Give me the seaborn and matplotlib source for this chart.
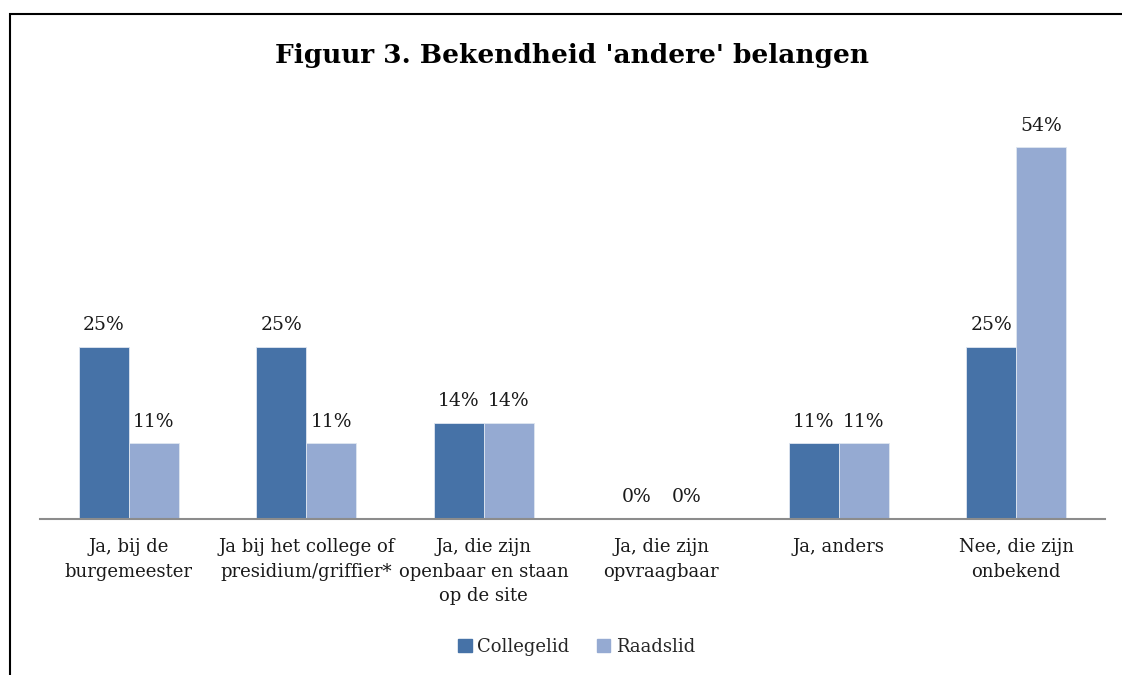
import matplotlib

matplotlib.use("Agg")

import matplotlib.pyplot as plt
import matplotlib.patches as mpatches
import pandas as pd
import seaborn as sns

categories = [
    "Ja, bij de\nburgemeester",
    "Ja bij het college of\npresidium/griffier*",
    "Ja, die zijn\nopenbaar en staan\nop de site",
    "Ja, die zijn\nopvraagbaar",
    "Ja, anders",
    "Nee, die zijn\nonbekend",
]
collegelid = [25, 25, 14, 0, 11, 25]
raadslid = [11, 11, 14, 0, 11, 54]
series = ["Collegelid", "Raadslid"]
colors = {"Collegelid": "#4672A7", "Raadslid": "#95AAD2"}

df = pd.DataFrame(
    {
        "categorie": categories * 2,
        "waarde": collegelid + raadslid,
        "groep": [series[0]] * len(categories) + [series[1]] * len(categories),
    }
)

sns.set_theme(style="white")
plt.rcParams["font.family"] = ["DejaVu Serif"]

fig = plt.figure(figsize=(11.22, 6.75), dpi=100)
ax = fig.add_axes([40 / 1122, 156 / 675, 1065 / 1122, 413 / 675])

sns.barplot(
    data=df, x="categorie", y="waarde", hue="groep", order=categories,
    hue_order=series, palette=colors, width=0.565, saturation=1,
    edgecolor="#dfe6f0", linewidth=0.6, ax=ax, legend=True,
)

for container in ax.containers:
    ax.bar_label(container, labels=[f"{v:.0f}%" for v in container.datavalues],
                 padding=9, fontsize=13.5, color="#1a1a1a")

ax.set_xlim(-0.5, 5.5)
ax.set_ylim(0, 60)
ax.set_xlabel("")
ax.set_ylabel("")
ax.set_yticks([])
ax.tick_params(axis="x", length=0, pad=14, labelsize=13, labelcolor="#1a1a1a")
for lbl in ax.get_xticklabels():
    lbl.set_linespacing(1.45)
    lbl.set_verticalalignment("top")
for side in ["top", "right", "left"]:
    ax.spines[side].set_visible(False)
ax.spines["bottom"].set_color("#8c8c8c")
ax.spines["bottom"].set_linewidth(1.5)

ax.legend_.remove()
handles = [mpatches.Patch(color=colors[s], label=s) for s in series]
fig.legend(handles=handles, loc="center", bbox_to_anchor=(0.514, 28 / 675), ncol=2,
           frameon=False, fontsize=13, handlelength=0.75, handleheight=0.75,
           handletextpad=0.3, columnspacing=1.5)

fig.text(0.51, 1 - 55 / 675, "Figuur 3. Bekendheid 'andere' belangen", ha="center",
         va="center", fontsize=19, fontweight="bold", color="black")

border = mpatches.Rectangle((10 / 1122, -0.1), 1.2, 1.1 - 14 / 675,
                            transform=fig.transFigure, fill=False,
                            edgecolor="black", linewidth=1.5, clip_on=False)
fig.patches.append(border)

fig.savefig("out.png", dpi=100)
